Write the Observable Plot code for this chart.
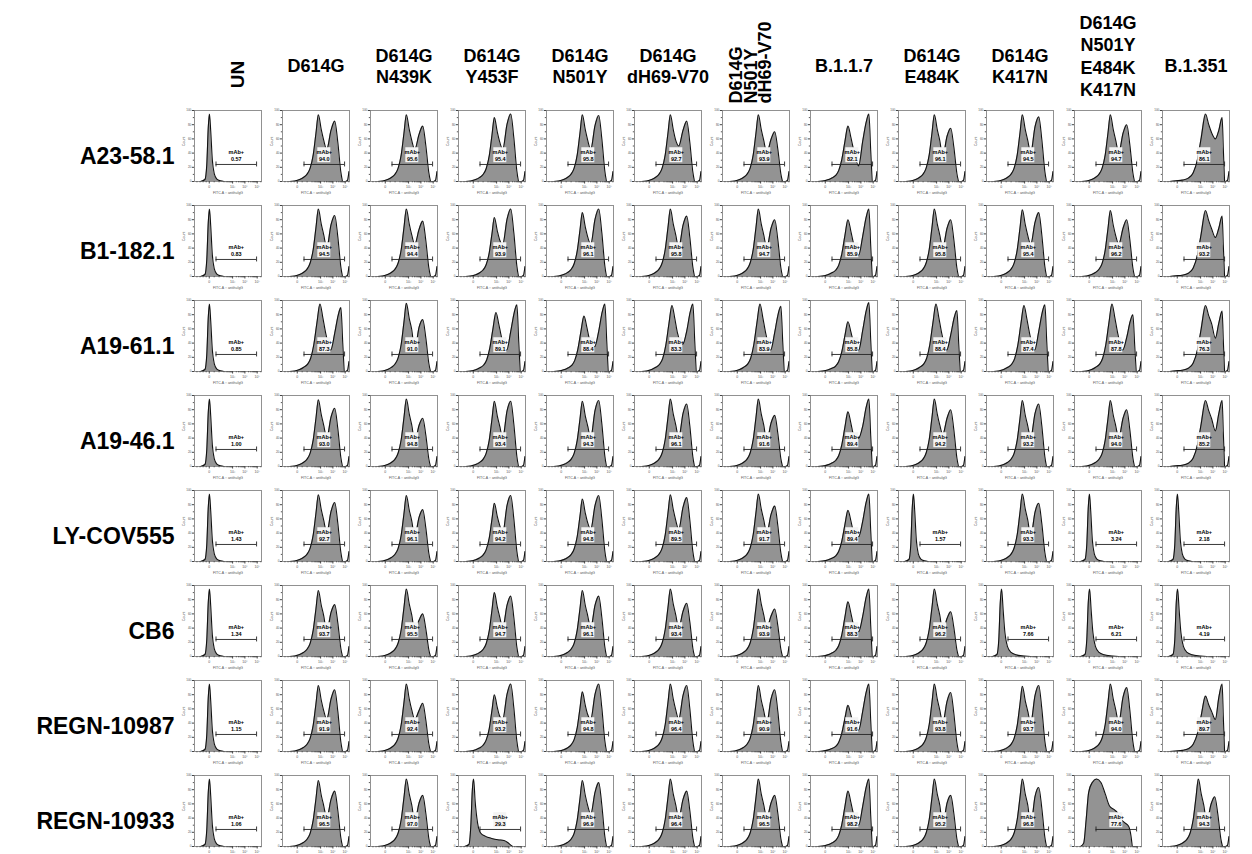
<!DOCTYPE html>
<html><head><meta charset="utf-8">
<script src="https://cdn.jsdelivr.net/npm/d3@7"></script>
<script src="https://cdn.jsdelivr.net/npm/@observablehq/plot@0.6"></script>
<style>
html,body{margin:0;padding:0;background:#fff;overflow:hidden;}
#chart svg{display:block;}
</style></head><body><div id="chart"></div>
<script>
// ---- categories ----
const antibodies = ["A23-58.1","B1-182.1","A19-61.1","A19-46.1","LY-COV555","CB6","REGN-10987","REGN-10933"];
const variants = ["UN","D614G","D614G\nN439K","D614G\nY453F","D614G\nN501Y","D614G\ndH69-V70",
  "D614G\nN501Y\ndH69-V70","B.1.1.7","D614G\nE484K","D614G\nK417N","D614G\nN501Y\nE484K\nK417N","B.1.351"];
const headerRotated = [true,false,false,false,false,false,true,false,false,false,false,false];

// ---- % mAb+ (gate values) ----
const mabPositive = [
  ["0.57","94.0","95.6","95.4","95.8","92.7","93.9","82.1","96.1","94.5","94.7","86.1"],
  ["0.83","94.5","94.4","93.9","96.1","95.8","94.7","85.9","95.8","95.4","96.2","93.2"],
  ["0.85","87.3","91.0","89.1","88.4","83.3","83.9","85.8","88.4","87.4","87.8","76.3"],
  ["1.00","93.0","94.8","93.4","94.3","96.1","91.6","89.4","94.2","93.2","94.0","85.2"],
  ["1.43","92.7","96.1","94.2","94.8","89.5","91.7","89.4","1.57","93.3","3.24","2.18"],
  ["1.34","93.7","95.5","94.7","96.1","93.4","93.9","88.3","96.2","7.66","6.21","4.19"],
  ["1.15","91.9","92.4","93.2","94.8","96.4","90.9","91.6","93.8","93.7","94.0","89.7"],
  ["1.06","96.5","97.0","29.3","96.9","96.4","96.5","98.2","95.2","96.8","77.6","94.3"]
];

// ---- histogram shape per cell (n: negative, m: negative w/ tail, b: bimodal, f: bimodal far right peak,
//      s: B.1.351 shoulder, t: negative w/ long tail, w: broad) ----
const shapeTypes = [
  "nbbbbbbfbbbs",
  "nbbbbbbfbbbs",
  "nfbffffffffs",
  "nbbbbbbfbbbs",
  "nbbbbbbfnbnn",
  "nbbbbbbfbmmm",
  "nbbbbbbfbbbs",
  "nbbtbbbfbbwb"
];
// relative heights (fraction of frame)
const peakLeft = [
  [.95,.94,.94,.90,.94,.94,.94,.78,.94,.94,.94,.95],
  [.95,.95,.95,.83,.90,.95,.95,.80,.95,.94,.93,.93],
  [.95,.95,.96,.83,.78,.93,.95,.70,.95,.93,.95,.93],
  [.95,.94,.95,.92,.92,.95,.95,.77,.95,.93,.93,.93],
  [.95,.94,.93,.82,.88,.94,.95,.72,.95,.95,.95,.95],
  [.95,.93,.95,.90,.93,.95,.95,.77,.95,.95,.95,.95],
  [.95,.93,.95,.80,.84,.95,.93,.65,.95,.92,.95,.78],
  [.95,.93,.95,.95,.93,.95,.95,.78,.95,.95,.95,.95]
];
const valley = [
  [0,.45,.45,.45,.45,.50,.40,.22,.35,.40,.40,.60],
  [0,.40,.45,.45,.45,.40,.40,.30,.40,.45,.45,.55],
  [0,.30,.30,.30,.35,.38,.30,.30,.30,.30,.30,.47],
  [0,.40,.35,.40,.40,.40,.35,.40,.45,.40,.40,.50],
  [0,.40,.35,.40,.45,.45,.40,.35,0,.35,0,0],
  [0,.35,.35,.40,.40,.40,.40,.35,.35,0,0,0],
  [0,.45,.45,.45,.45,.45,.40,.30,.40,.40,.40,.45],
  [0,.40,.35,0,.45,.40,.40,.30,.30,.30,0,.35]
];
const peakRight = [
  [0,.85,.78,.95,.93,.85,.70,.95,.75,.91,.80,.90],
  [0,.86,.78,.95,.95,.85,.80,.95,.80,.90,.80,.85],
  [0,.90,.73,.94,.95,.95,.92,.97,.86,.94,.80,.85],
  [0,.82,.68,.92,.93,.88,.72,.95,.80,.88,.80,.93],
  [0,.83,.73,.93,.93,.90,.78,.95,0,.82,0,0],
  [0,.73,.60,.85,.85,.75,.67,.95,.63,0,0,0],
  [0,.87,.68,.95,.95,.93,.87,.95,.83,.93,.90,.95],
  [0,.78,.72,0,.90,.78,.72,.95,.72,.83,0,.70]
];

// shape templates: [position (display units), fraction, anchor]
const shapeTemplates = {
  n: [[-0.7,0,"L"],[-0.35,.03,"L"],[-0.2,.25,"L"],[-0.08,.8,"L"],[0.02,1,"L"],[0.12,.75,"L"],[0.25,.32,"L"],[0.4,.12,"L"],[0.6,.04,"L"],[0.9,.01,"L"],[1.2,0,"L"]],
  m: [[-0.7,0,"L"],[-0.35,.03,"L"],[-0.2,.25,"L"],[-0.08,.8,"L"],[0.03,1,"L"],[0.15,.7,"L"],[0.3,.35,"L"],[0.5,.15,"L"],[0.8,.06,"L"],[1.2,.025,"L"],[1.8,.008,"L"],[2.4,0,"L"]],
  t: [[-0.7,0,"L"],[-0.35,.03,"L"],[-0.2,.3,"L"],[-0.07,.85,"L"],[0.03,1,"L"],[0.15,.68,"L"],[0.35,.35,"L"],[0.6,.2,"L"],[1.0,.15,"L"],[1.5,.12,"L"],[2.0,.1,"L"],[2.5,.09,"L"],[2.8,.06,"L"],[3.05,.02,"L"],[3.2,0,"L"]],
  w: [[-0.7,0,"L"],[-0.45,.05,"L"],[-0.25,.4,"L"],[-0.05,.8,"L"],[0.25,.95,"L"],[0.6,1,"L"],[0.95,.95,"L"],[1.3,.78,"L"],[1.65,.6,"L"],[2.0,.55,"L"],[2.3,.5,"L"],[2.6,.4,"L"],[2.9,.35,"L"],[3.2,.3,"L"],[3.4,.15,"L"],[3.5,0,"L"]],
  b: [[-0.6,0,"L"],[-0.2,.008,"L"],[0.2,.03,"L"],[0.5,.06,"L"],[0.8,.11,"L"],[1.05,.2,"L"],[1.3,.4,"L"],[1.52,.72,"L"],[1.72,1,"L"],[1.95,.78,"L"],[2.15,.62,"L"],[2.4,1,"V"],[2.75,.85,"R"],[3.05,1,"R"],[3.3,.65,"R"],[3.55,.15,"R"],[3.68,0,"L"]],
  f: [[-0.6,0,"L"],[-0.2,.008,"L"],[0.2,.03,"L"],[0.5,.06,"L"],[0.85,.11,"L"],[1.1,.2,"L"],[1.35,.4,"L"],[1.6,.72,"L"],[1.85,1,"L"],[2.08,.8,"L"],[2.3,.58,"L"],[2.72,1,"V"],[3.05,.6,"R"],[3.33,.88,"R"],[3.55,1,"R"],[3.7,.45,"R"],[3.82,0,"L"]],
  s: [[-0.6,0,"L"],[-0.1,.01,"L"],[0.4,.02,"L"],[0.9,.05,"L"],[1.3,.13,"L"],[1.65,.33,"L"],[1.95,.65,"L"],[2.3,1,"L"],[2.55,.85,"L"],[2.8,.72,"L"],[3.1,1,"V"],[3.38,.8,"R"],[3.65,1,"R"],[3.75,.5,"R"],[3.85,0,"L"]]
};
const edgeSpike = [[3.95,0],[4.1,.02],[4.2,.14]];

// gate on the x axis (display units) and height in frame
const gate = {from: 0.55, to: 3.85, level: 0.24, cap: 0.035, labelY: 0.37};

// axis ticks
const majorTicks = [0, 1.9, 2.9, 3.9];
const majorTickLabels = ["0","10³","10⁴","10⁵"];
const minorTicks = [-1.0,-0.75,-0.5,-0.25, 0.4, 0.8]
  .concat(d3.range(2,6).flatMap(d => d3.range(2,10).map(k => 1.9 + (d - 3) + Math.log10(k))))
  .filter(u => u > -1.2 && u < 4.25);
const yTicks = [0, .2, .4, .6, .8, 1];
const yTickLabels = ["0","20","40","60","80","100"];
const yMinor = [.1,.3,.5,.7,.9];

// ---- build tables ----
const curvePoints = [];
const cells = [];
antibodies.forEach((ab, r) => variants.forEach((v, c) => {
  const type = shapeTypes[r][c];
  const anchor = {L: peakLeft[r][c], V: valley[r][c], R: peakRight[r][c]};
  shapeTemplates[type].forEach(([u, k, a]) => curvePoints.push({ab, v, part: "main", u, y: k * anchor[a]}));
  if ("bfs".includes(type)) edgeSpike.forEach(([u, y]) => curvePoints.push({ab, v, part: "edge", u, y}));
  cells.push({ab, v, pct: mabPositive[r][c], positive: "bfswt".includes(type)});
}));
const gateCaps = cells.flatMap(d => [{...d, u: gate.from}, {...d, u: gate.to}]);
const headers = variants.map((v, i) => ({v, rot: headerRotated[i], i, lines: v.split("\n").length}));
const majorLabel = new Map(majorTicks.map((t, i) => [t, majorTickLabels[i]]));
const yLabel = new Map(yTicks.map((t, i) => [t, yTickLabels[i]]));
const gateCenter = (gate.from + gate.to) / 2;

const fxy = {fx: "v", fy: "ab"};
const headerStyle = {fx: "v", text: "v", frameAnchor: "top", fontWeight: "bold", fill: "#000", facetAnchor: "top"};
const chart = Plot.plot({
  width: 1252, height: 854,
  marginLeft: 189, marginRight: 18.2, marginTop: 108.5, marginBottom: 6,
  fx: {domain: variants, paddingInner: 0.2342, paddingOuter: 0, axis: null},
  fy: {domain: antibodies, paddingInner: 0.2565, paddingOuter: 0, axis: null},
  x: {domain: [-1.2, 4.25]},
  y: {domain: [0, 1]},
  style: {fontFamily: "'Liberation Sans', Arial, sans-serif", background: "#fff"},
  marks: [
    Plot.areaY(curvePoints, {...fxy, x: "u", y: "y", z: "part", fill: "#939393", curve: "monotone-x"}),
    Plot.lineY(curvePoints, {...fxy, x: "u", y: "y", z: "part", stroke: "#111", strokeWidth: 1.1, curve: "monotone-x"}),
    Plot.frame({stroke: "#777", strokeWidth: 0.8}),
    Plot.axisX({ticks: minorTicks, tickSize: 1.3, tickFormat: () => "", label: null, facetAnchor: null, stroke: "#555"}),
    Plot.axisX({ticks: majorTicks, tickSize: 2.5, tickPadding: 1, tickFormat: d => majorLabel.get(d), fontSize: 3.5, label: null, facetAnchor: null, stroke: "#444", fill: "#555"}),
    Plot.axisY({ticks: yMinor, tickSize: 1.2, tickFormat: () => "", label: null, facetAnchor: null, stroke: "#555"}),
    Plot.axisY({ticks: yTicks, tickSize: 2.2, tickPadding: 1, tickFormat: d => yLabel.get(d), fontSize: 3, label: null, facetAnchor: null, stroke: "#444", fill: "#555"}),
    Plot.text(["Count"], {text: d => d, frameAnchor: "left", dx: -11, rotate: -90, fontSize: 3.5, fill: "#555"}),
    Plot.text(["FITC-A :: antihuIgG"], {text: d => d, frameAnchor: "bottom", dy: 12, fontSize: 3.5, fill: "#555"}),
    Plot.ruleY(cells, {...fxy, x1: gate.from, x2: gate.to, y: gate.level, stroke: "#222", strokeWidth: 0.9}),
    Plot.ruleX(gateCaps, {...fxy, x: "u", y1: gate.level - gate.cap, y2: gate.level + gate.cap, stroke: "#222", strokeWidth: 0.9}),
    // light label box behind the gate label
    Plot.rect(cells.filter(d => d.positive), {...fxy, x1: gateCenter, x2: gateCenter, y1: gate.labelY, y2: gate.labelY,
      insetLeft: -6.5, insetRight: -6.5, insetTop: -7.5, insetBottom: -7.5, fill: "#f3f3f3"}),
    Plot.text(cells, {...fxy, x: gateCenter, y: gate.labelY, text: d => "mAb+\n" + d.pct,
      fontSize: 5.5, fontWeight: "bold", lineHeight: 1.2, lineAnchor: "middle", fill: "#000"}),
    // row labels
    Plot.text(antibodies, {fy: d => d, text: d => d, frameAnchor: "left", dx: -20, dy: 11, textAnchor: "end",
      fontSize: 23, fontWeight: "bold", fill: "#000", facetAnchor: "left"}),
    // column headers
    Plot.text(headers.filter(d => !d.rot && d.lines < 4), {...headerStyle, dy: -45, lineAnchor: "middle",
      lineHeight: 1.2, fontSize: 18}),
    Plot.text(headers.filter(d => !d.rot && d.lines >= 4), {...headerStyle, dy: -55, lineAnchor: "middle",
      lineHeight: 1.25, fontSize: 18}),
    Plot.text(headers.filter(d => d.rot && d.lines === 1), {...headerStyle, dx: 2, dy: -36, rotate: -90,
      textAnchor: "middle", fontSize: 19}),
    Plot.text(headers.filter(d => d.rot && d.lines > 1), {...headerStyle, dx: -4, dy: -7, rotate: -90,
      textAnchor: "start", lineAnchor: "middle", lineHeight: 0.82, fontSize: 18})
  ]
});
document.getElementById("chart").appendChild(chart);
</script>
</body></html>
